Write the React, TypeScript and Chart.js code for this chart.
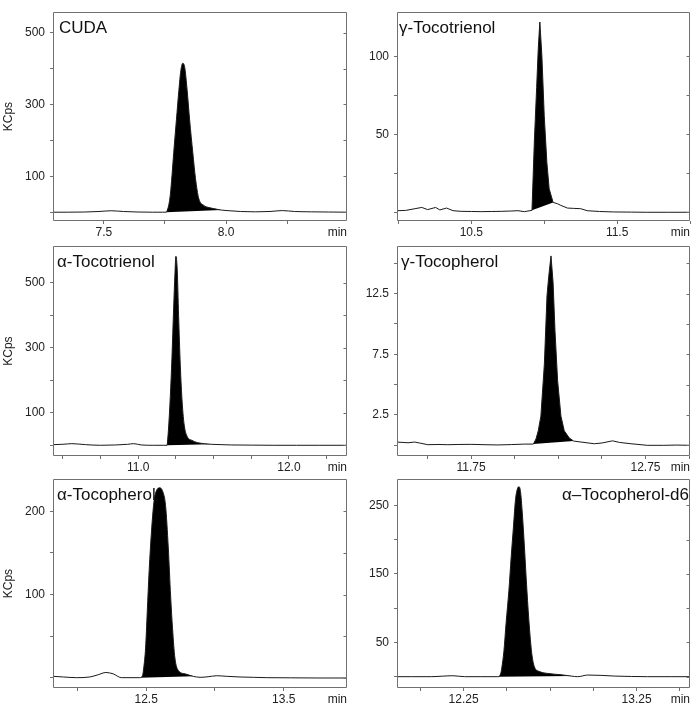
import React, { useEffect, useRef } from "react";
import { Chart, registerables } from "chart.js";

Chart.register(...registerables);

// ---------- Panel 1: CUDA ----------
const cudaTime = [7.292, 7.35, 7.42, 7.48, 7.53, 7.58, 7.64, 7.7, 7.74, 7.755, 7.766, 7.772, 7.779, 7.786, 7.797, 7.807, 7.815, 7.823, 7.831, 7.841, 7.851, 7.864, 7.875, 7.888, 7.909, 7.93, 7.95, 7.98, 8.004, 8.059, 8.12, 8.18, 8.23, 8.28, 8.35, 8.42, 8.495];
const cudaSignal = [0, 0, 0.5, 2, 4, 2, 0.5, 0, 0, 0, 21, 48, 103, 166, 257, 339, 394, 415, 403, 339, 257, 166, 94, 39, 19, 13, 10, 6, 4.5, 2, 1, 2, 4.5, 2, 1, 0.5, 0];
const cudaPeak = [7.755, 7.98];
const cudaXTicks = [7.5, 7.75, 8.0, 8.25];
const cudaXLabels = ["7.5", "", "8.0", ""];
const cudaYTicks = [0, 100, 200, 300, 400, 500];
const cudaYLabels = ["", "100", "", "300", "", "500"];

// ---------- Panel 2: gamma-Tocotrienol ----------
const gT3Time = [9.99, 10.05, 10.114, 10.16, 10.2, 10.255, 10.284, 10.33, 10.375, 10.43, 10.5, 10.568, 10.64, 10.705, 10.77, 10.82, 10.864, 10.916, 10.932, 10.948, 10.959, 10.97, 10.984, 11.0, 11.018, 11.034, 11.061, 11.09, 11.114, 11.159, 11.2, 11.25, 11.295, 11.38, 11.477, 11.6, 11.7, 11.85, 12.0];
const gT3Signal = [1, 1.2, 2.3, 3.1, 1.7, 3.1, 1.5, 2.7, 1, 0.6, 0.5, 0.4, 0.5, 0.6, 0.8, 1, 0.4, 1.25, 45, 80, 105, 122, 100, 62, 32, 15, 6.3, 5.5, 4.4, 2.7, 2.5, 2.3, 1, 0.5, 0.2, 0.1, 0, 0, 0];
const gT3Peak = [10.916, 11.061];
const gT3XTicks = [10.0, 10.5, 11.0, 11.5, 12.0];
const gT3XLabels = ["", "10.5", "", "11.5", ""];
const gT3YTicks = [0, 25, 50, 75, 100];
const gT3YLabels = ["", "", "50", "", "100"];

// ---------- Panel 3: alpha-Tocotrienol ----------
const aT3Time = [10.435, 10.5, 10.56, 10.65, 10.75, 10.85, 10.93, 10.97, 11.02, 11.1, 11.17, 11.191, 11.201, 11.213, 11.224, 11.235, 11.244, 11.25, 11.259, 11.268, 11.279, 11.292, 11.306, 11.324, 11.357, 11.395, 11.44, 11.484, 11.55, 11.617, 11.75, 11.9, 12.05, 12.2, 12.385];
const aT3Signal = [2, 3, 5, 2, 0, 1, 3, 5, 1, 0, 0, 0, 50, 150, 270, 420, 530, 582, 540, 400, 250, 130, 60, 28, 15, 8, 5, 3, 2, 1, 0.5, 0, 0, 0, 0];
const aT3Peak = [11.191, 11.484];
const aT3XTicks = [10.5, 10.75, 11.0, 11.25, 11.5, 11.75, 12.0, 12.25];
const aT3XLabels = ["", "", "11.0", "", "", "", "12.0", ""];
const aT3YTicks = [0, 100, 200, 300, 400, 500];
const aT3YLabels = ["", "100", "", "300", "", "500"];

// ---------- Panel 4: gamma-Tocopherol ----------
const gTTime = [11.325, 11.388, 11.426, 11.454, 11.502, 11.56, 11.616, 11.68, 11.75, 11.83, 11.903, 11.98, 12.055, 12.107, 12.122, 12.135, 12.15, 12.17, 12.185, 12.195, 12.208, 12.22, 12.231, 12.246, 12.265, 12.284, 12.313, 12.338, 12.38, 12.456, 12.5, 12.561, 12.6, 12.666, 12.76, 12.855, 12.93, 13.005];
const gTSignal = [0.27, 0.21, 0.27, 0.19, 0.05, 0.07, 0.05, 0.07, 0.08, 0.05, 0.03, 0.06, 0.1, 0.1, 0.53, 1.2, 2.4, 6.7, 12.3, 13.9, 15.6, 13.4, 9.4, 5.3, 2.4, 1.2, 0.6, 0.35, 0.27, 0.13, 0.19, 0.37, 0.24, 0.13, 0, 0, 0.02, 0];
const gTPeak = [12.107, 12.338];
const gTXTicks = [11.5, 11.75, 12.0, 12.25, 12.5, 12.75, 13.0];
const gTXLabels = ["", "11.75", "", "", "", "12.75", ""];
const gTYTicks = [0, 2.5, 5, 7.5, 10, 12.5, 15];
const gTYLabels = ["", "2.5", "", "7.5", "", "12.5", ""];

// ---------- Panel 5: alpha-Tocopherol ----------
const aTTime = [11.823, 11.9, 11.993, 12.09, 12.151, 12.207, 12.26, 12.32, 12.39, 12.454, 12.474, 12.483, 12.496, 12.508, 12.522, 12.539, 12.556, 12.576, 12.6, 12.624, 12.641, 12.661, 12.678, 12.692, 12.709, 12.734, 12.782, 12.843, 12.892, 12.95, 13.013, 13.086, 13.183, 13.28, 13.377, 13.55, 13.75, 13.96];
const aTSignal = [2, 1.2, 0.4, 1.2, 3.9, 6.6, 5, 0.4, 0.4, 0.4, 3, 12.8, 36, 79, 129, 176, 210, 225, 228, 222, 207, 156, 98, 59, 24, 9, 5, 2, 0.8, 1.5, 2.7, 2, 1.2, 0.8, 0.4, 0.2, 0, 0];
const aTPeak = [12.454, 12.843];
const aTXTicks = [12.0, 12.5, 13.0, 13.5];
const aTXLabels = ["", "12.5", "", "13.5"];
const aTYTicks = [0, 50, 100, 150, 200];
const aTYLabels = ["", "", "100", "", "200"];

// ---------- Panel 6: alpha-Tocopherol-d6 ----------
const d6Time = [11.865, 11.95, 12.063, 12.13, 12.188, 12.256, 12.35, 12.448, 12.464, 12.471, 12.483, 12.496, 12.512, 12.525, 12.539, 12.55, 12.56, 12.57, 12.579, 12.589, 12.602, 12.616, 12.631, 12.645, 12.66, 12.689, 12.737, 12.814, 12.872, 12.91, 12.968, 13.045, 13.122, 13.22, 13.314, 13.45, 13.559];
const d6Signal = [0, 0, 0, 0.8, 1.4, 0, 0, 0, 3.8, 13, 37, 79, 126, 174, 221, 258, 273, 277, 270, 240, 188, 126, 70, 32, 14, 7.5, 4.7, 2.8, 0.9, 0, 2.4, 1.9, 0.9, 0.3, 0, 0, 0];
const d6Peak = [12.448, 12.872];
const d6XTicks = [12.0, 12.25, 12.5, 12.75, 13.0, 13.25, 13.5];
const d6XLabels = ["", "12.25", "", "", "", "13.25", ""];
const d6YTicks = [0, 50, 100, 150, 200, 250];
const d6YLabels = ["", "50", "", "150", "", "250"];

// ---------- styling / layout ----------
const AXIS = "#707070";
const TEXT = "#222222";
const LINE = "#1a1a1a";
const FONT_FAMILY = '"Liberation Sans", Arial, Helvetica, sans-serif';
const TICK_SIZE = 12;
const TITLE_SIZE = 17;
const PAD_TOP = 6;
const X_AXIS_H = 22;
const TICK_LEN = 3;
const X_TICK_PAD = 1;

const COLS = [
  { left: 0, width: 348, yWidth: 53, padRight: 1 },
  { left: 348, width: 349, yWidth: 49, padRight: 7 },
];
const ROWS = [
  { boxTop: 6, boxBottom: 221 },
  { boxTop: 240, boxBottom: 456 },
  { boxTop: 473, boxBottom: 688 },
];

type Panel = {
  title: string;
  titleAlign: "left" | "right";
  titleDx: number;
  time: number[];
  signal: number[];
  peak: number[];
  xRange: number[];
  yRange: number[];
  xTicks: number[];
  xLabels: string[];
  yTicks: number[];
  yLabels: string[];
  yTitle: boolean;
  smooth: boolean;
};

const PANELS: Panel[] = [
  { title: "CUDA", titleAlign: "left", titleDx: 6, time: cudaTime, signal: cudaSignal, peak: cudaPeak, xRange: [7.292, 8.495], yRange: [-24.5, 557], xTicks: cudaXTicks, xLabels: cudaXLabels, yTicks: cudaYTicks, yLabels: cudaYLabels, yTitle: true, smooth: true },
  { title: "γ-Tocotrienol", titleAlign: "left", titleDx: 2, time: gT3Time, signal: gT3Signal, peak: gT3Peak, xRange: [9.99, 12.0], yRange: [-5.6, 128.3], xTicks: gT3XTicks, xLabels: gT3XLabels, yTicks: gT3YTicks, yLabels: gT3YLabels, yTitle: false, smooth: false },
  { title: "α-Tocotrienol", titleAlign: "left", titleDx: 4, time: aT3Time, signal: aT3Signal, peak: aT3Peak, xRange: [10.435, 12.385], yRange: [-33, 613], xTicks: aT3XTicks, xLabels: aT3XLabels, yTicks: aT3YTicks, yLabels: aT3YLabels, yTitle: true, smooth: true },
  { title: "γ-Tocopherol", titleAlign: "left", titleDx: 4, time: gTTime, signal: gTSignal, peak: gTPeak, xRange: [11.325, 13.005], yRange: [-0.88, 16.4], xTicks: gTXTicks, xLabels: gTXLabels, yTicks: gTYTicks, yLabels: gTYLabels, yTitle: false, smooth: false },
  { title: "α-Tocopherol", titleAlign: "left", titleDx: 4, time: aTTime, signal: aTSignal, peak: aTPeak, xRange: [11.823, 13.96], yRange: [-12, 238.4], xTicks: aTXTicks, xLabels: aTXLabels, yTicks: aTYTicks, yLabels: aTYLabels, yTitle: true, smooth: true },
  { title: "α–Tocopherol-d6", titleAlign: "right", titleDx: 1, time: d6Time, signal: d6Signal, peak: d6Peak, xRange: [11.865, 13.559], yRange: [-16.5, 288], xTicks: d6XTicks, xLabels: d6XLabels, yTicks: d6YTicks, yLabels: d6YLabels, yTitle: false, smooth: true },
];

function decorPlugin(p: Panel) {
  return {
    id: "decor",
    afterDraw(chart: any) {
      const { ctx, chartArea: a, scales } = chart;
      ctx.save();
      ctx.strokeStyle = AXIS;
      ctx.lineWidth = 1;
      const L = Math.round(a.left) + 0.5;
      const T = Math.round(a.top) + 0.5;
      const R = Math.round(a.right) - 0.5;
      const B = Math.round(a.bottom) - 0.5;
      ctx.beginPath();
      ctx.rect(L, T, R - L, B - T);
      const ys = scales.y;
      ys.ticks.forEach((t: any) => {
        const py = Math.round(ys.getPixelForValue(t.value)) + 0.5;
        ctx.moveTo(R - TICK_LEN, py);
        ctx.lineTo(R, py);
      });
      ctx.stroke();

      ctx.fillStyle = "#111";
      ctx.font = `${TITLE_SIZE}px ${FONT_FAMILY}`;
      ctx.textBaseline = "alphabetic";
      if (p.titleAlign === "left") {
        ctx.textAlign = "left";
        ctx.fillText(p.title, a.left + p.titleDx, a.top + 20.5);
      } else {
        ctx.textAlign = "right";
        ctx.fillText(p.title, a.right - p.titleDx, a.top + 20.5);
      }

      ctx.fillStyle = TEXT;
      ctx.font = `${TICK_SIZE}px ${FONT_FAMILY}`;
      ctx.textAlign = "right";
      ctx.textBaseline = "middle";
      ctx.fillText("min", a.right, a.bottom + TICK_LEN + X_TICK_PAD + (TICK_SIZE * 1.2) / 2);
      ctx.restore();
    },
  };
}

function PanelChart({ panel, col, row }: { panel: Panel; col: number; row: number }) {
  const ref = useRef<HTMLCanvasElement>(null);
  const c = COLS[col];
  const r = ROWS[row];
  const top = r.boxTop - PAD_TOP;
  const height = r.boxBottom - r.boxTop + PAD_TOP + X_AXIS_H;

  useEffect(() => {
    const p = panel;
    const trace = p.time.map((t, i) => ({ x: t, y: p.signal[i] }));
    const peakPts = trace.filter((pt) => pt.x >= p.peak[0] - 1e-9 && pt.x <= p.peak[1] + 1e-9);
    const basePts = [peakPts[0], peakPts[peakPts.length - 1]];
    const interp: any = p.smooth ? { cubicInterpolationMode: "monotone" } : { tension: 0 };
    const tickFont = { family: FONT_FAMILY, size: TICK_SIZE };

    const chart = new Chart(ref.current as HTMLCanvasElement, {
      type: "line",
      data: {
        datasets: [
          { data: trace, borderColor: LINE, borderWidth: 1, pointRadius: 0, fill: false, ...interp },
          { data: peakPts, borderColor: "rgba(0,0,0,0)", borderWidth: 0, backgroundColor: "#000000", pointRadius: 0, fill: "+1", ...interp },
          { data: basePts, borderColor: "rgba(0,0,0,0)", borderWidth: 0, pointRadius: 0, fill: false, tension: 0 },
        ] as any,
      },
      options: {
        responsive: false,
        animation: false,
        devicePixelRatio: 1,
        events: [],
        layout: { padding: { top: PAD_TOP, right: c.padRight, left: 0, bottom: 0 } },
        plugins: { legend: { display: false }, tooltip: { enabled: false }, title: { display: false } },
        scales: {
          x: {
            type: "linear",
            min: p.xRange[0],
            max: p.xRange[1],
            afterBuildTicks: (ax: any) => {
              ax.ticks = p.xTicks.map((v) => ({ value: v }));
            },
            afterFit: (ax: any) => {
              ax.height = X_AXIS_H;
            },
            grid: { drawOnChartArea: false, drawTicks: true, tickLength: TICK_LEN, color: AXIS },
            border: { display: false },
            ticks: {
              autoSkip: false,
              maxRotation: 0,
              padding: X_TICK_PAD,
              font: tickFont,
              color: TEXT,
              callback: (_v: any, i: number) => p.xLabels[i] ?? "",
            },
          },
          y: {
            type: "linear",
            min: p.yRange[0],
            max: p.yRange[1],
            afterBuildTicks: (ax: any) => {
              ax.ticks = p.yTicks.map((v) => ({ value: v }));
            },
            afterFit: (ax: any) => {
              ax.width = c.yWidth;
            },
            grid: { drawOnChartArea: false, drawTicks: true, tickLength: TICK_LEN, color: AXIS },
            border: { display: false },
            ticks: {
              autoSkip: false,
              padding: 5,
              font: tickFont,
              color: TEXT,
              callback: (_v: any, i: number) => p.yLabels[i] ?? "",
            },
            title: {
              display: p.yTitle,
              text: "KCps",
              font: { family: FONT_FAMILY, size: TICK_SIZE },
              color: TEXT,
              padding: { top: 1, bottom: 0 },
            },
          },
        },
      } as any,
      plugins: [decorPlugin(p)],
    });
    return () => chart.destroy();
  }, [panel]);

  return (
    <canvas
      ref={ref}
      width={c.width}
      height={height}
      style={{ position: "absolute", left: c.left, top, width: c.width, height }}
    />
  );
}

export default function App() {
  return (
    <div style={{ position: "absolute", left: 0, top: 0, width: 697, height: 704, overflow: "hidden", background: "#ffffff" }}>
      {PANELS.map((p, i) => (
        <PanelChart key={i} panel={p} col={i % 2} row={Math.floor(i / 2)} />
      ))}
    </div>
  );
}
